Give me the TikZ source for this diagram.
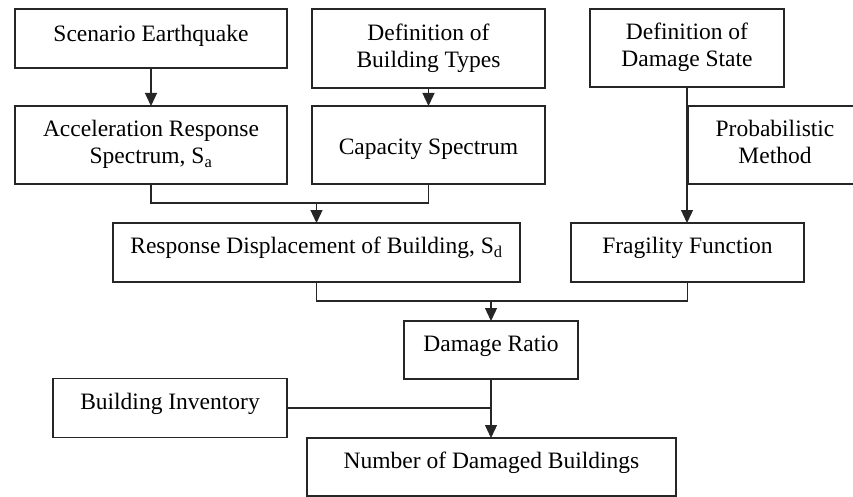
\documentclass[tikz,border=0pt]{standalone}
\usepackage{fontspec}
\setmainfont{Liberation Serif}
\usetikzlibrary{arrows.meta}
\begin{document}
\begin{tikzpicture}[x=1pt,y=-1pt,
  box/.style={draw=black!85, line width=1.3pt, rectangle, inner sep=0pt, outer sep=0pt,
    font=\fontsize{23.5}{27}\selectfont},
  one/.style={box, text height=13pt, text depth=11pt},
  two/.style={box},
  conn/.style={draw=black!85, line width=1.3pt},
  arr/.style={conn, -{Triangle[length=13pt,width=12pt]}}]
\useasboundingbox (0,0) rectangle (853,497);
\clip (0,0) rectangle (853,497);

\node[one, text height=15.5pt, text depth=8.5pt, minimum width=272pt, minimum height=59pt] (se) at (151,38.5) {Scenario Earthquake};
\node[two, minimum width=272pt, minimum height=78pt] (ar) at (151,145)
  {\begin{tabular}{@{}c@{}}Acceleration Response\\ Spectrum, S\textsubscript{a}\end{tabular}};
\node[two, minimum width=233pt, minimum height=79pt] (bt) at (428.5,48.5)
  {\begin{tabular}{@{}c@{}}Definition of\\ Building Types\end{tabular}};
\node[one, text height=22pt, text depth=2pt, minimum width=233pt, minimum height=78pt] (cs) at (428.5,145) {Capacity Spectrum};
\node[two, minimum width=194pt, minimum height=78pt] (ds) at (687,48)
  {\begin{tabular}{@{}c@{}}Definition of\\ Damage State\end{tabular}};
\node[two, minimum width=174pt, minimum height=78pt] (pm) at (775,145)
  {\begin{tabular}{@{}c@{}}Probabilistic\\ Method\end{tabular}};
\node[one, minimum width=407pt, minimum height=59pt] (rd) at (316.5,252.5)
  {Response Displacement of Building, S\textsubscript{d}};
\node[one, minimum width=233pt, minimum height=59pt] (ff) at (687.5,252.5) {Fragility Function};
\node[one, minimum width=174pt, minimum height=58pt] (dr) at (491,350) {Damage Ratio};
\node[one, minimum width=234pt, minimum height=59pt] (bi) at (170,408) {Building Inventory};
\node[one, minimum width=369pt, minimum height=58pt] (nd) at (491.5,467) {Number of Damaged Buildings};

\coordinate (j1) at (316.5,203);
\coordinate (j2) at (491,301);

\draw[arr] (se.south) -- (ar.north);
\draw[arr] (bt.south) -- (cs.north);
\draw[conn] (ar.south) |- (j1) -| (cs.south);
\draw[arr] (j1) -- (rd.north);
\draw[arr] (ds.south) -- (ds.south |- ff.north);
\draw[conn] (rd.south) |- (j2) -| (ff.south);
\draw[arr] (j2) -- (dr.north);
\draw[arr] (dr.south) -- (dr.south |- nd.north);
\draw[conn] (bi.east) -- (bi.east -| dr.south);
\end{tikzpicture}
\end{document}
